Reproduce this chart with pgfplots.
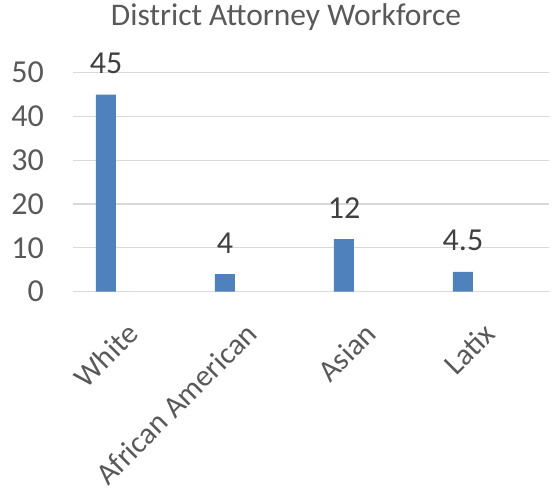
\documentclass[border=0pt]{standalone}
\usepackage{pgfplots}
\pgfplotsset{compat=1.18}
\usepackage{fontspec}
\setmainfont{Carlito}
\definecolor{barblue}{HTML}{4F81BD}
\definecolor{txtgray}{HTML}{595959}
\definecolor{lblgray}{HTML}{404040}
\definecolor{gridgray}{HTML}{D9D9D9}
\begin{document}
\begin{tikzpicture}
\useasboundingbox (0,0) rectangle (552pt,497pt);
\begin{axis}[
  at={(73pt,205.3pt)}, anchor=south west,
  scale only axis, width=476pt, height=219pt,
  xmin=-0.5, xmax=3.5, ymin=0, ymax=50,
  ytick={0,10,...,50},
  xtick={0,1,2,3},
  xticklabels={White,African American,Asian,Latix},
  axis line style={draw=none},
  axis x line*=bottom,
  tick style={draw=none},
  ymajorgrids, grid style={gridgray, line width=1.2pt},
  /pgf/number format/assume math mode=true,
  yticklabel style={font=\fontsize{32}{38}\selectfont, text=txtgray, inner sep=0pt, anchor=east, xshift=-29pt},
  xticklabel style={font=\fontsize{30.5}{36}\selectfont, text=txtgray, inner sep=0pt, anchor=east, xshift=0pt, yshift=-37pt, rotate=45},
  title={District Attorney Workforce},
  title style={font=\fontsize{31.5}{38}\selectfont, text=txtgray, at={(0.4475,1)}, anchor=base, yshift=40.7pt, inner sep=0pt},
  clip=false,
]
\addplot[ybar, bar width=20pt, bar shift=-26.5pt, fill=barblue, draw=none,
  nodes near coords,
  every node near coord/.append style={font=\fontsize{32}{38}\selectfont, text=lblgray, anchor=base, xshift=-26.5pt, yshift=21pt, inner sep=0pt},
  /pgf/number format/assume math mode=true]
  coordinates {(0,45) (1,4) (2,12) (3,4.5)};
\end{axis}
\end{tikzpicture}
\end{document}
